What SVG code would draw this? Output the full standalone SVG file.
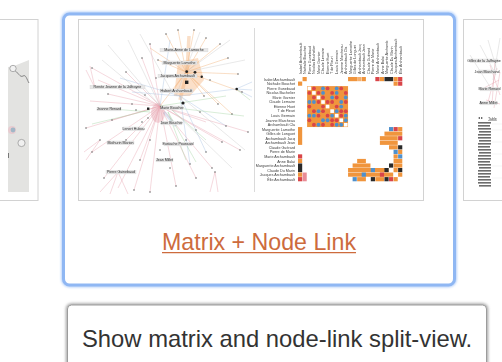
<svg xmlns="http://www.w3.org/2000/svg" width="502" height="362" viewBox="0 0 502 362">
  <defs>
    <filter id="soft" x="-5%" y="-5%" width="110%" height="110%">
      <feGaussianBlur stdDeviation="0.4"/>
    </filter>
    <filter id="glow" x="-10%" y="-10%" width="120%" height="120%">
      <feGaussianBlur stdDeviation="1.2"/>
    </filter>
    <filter id="shadow" x="-10%" y="-20%" width="120%" height="140%">
      <feGaussianBlur stdDeviation="1.6"/>
    </filter>
  </defs>
  <style>
    .frame { fill: #ffffff; stroke: #d2d2d2; stroke-width: 1; }
    .lbl { font-family: "Liberation Sans", Arial, sans-serif; font-size: 3.7px; fill: #3c3c3c; }
    .nlbl { font-family: "Liberation Sans", Arial, sans-serif; font-size: 3.6px; fill: #2a2a2a; text-anchor: middle; }
    .nbg { fill: #e8e8e8; stroke: #cfcfcf; stroke-width: 0.3; }
    .pink { stroke: #e49aa7; }
    .orng { stroke: #f0a868; }
    .blue { stroke: #9dbbe0; }
    .grn { stroke: #9ccf98; }
    .gray { stroke: #c4c4c4; }
    .edges path { fill: none; stroke-width: 0.55; opacity: 0.7; }
    .dot { fill: #6a6a6a; }
    .o { fill: #f0953e; }
    .y { fill: #f5b06e; }
    .r { fill: #d94448; }
    .b { fill: #4f90cc; }
    .k { fill: #2b2b2b; }
    .p { fill: #e98c96; }
    .w { fill: #ffffff; }
  </style>

  <rect width="502" height="362" fill="#ffffff"/>

  <!-- card on the left, cut by the window edge -->
  <g id="card-left">
    <rect class="frame" x="-6" y="19.5" width="44" height="181"/>
    <g filter="url(#soft)">
      <polygon points="8,67 14,66 29,60 29,192 8,192" fill="#e3e3e1"/>
      <path d="M13 69 C18 72 20 78 23 76 C26 74 27 80 29 83" fill="none" stroke="#7a7a7a" stroke-width="0.9"/>
      <circle cx="13" cy="68.5" r="3.2" fill="#f2f2f2" stroke="#9a9a9a" stroke-width="0.8"/>
      <circle cx="21.5" cy="143" r="3.6" fill="#f0f0f0" stroke="#9a9a9a" stroke-width="0.8"/>
      <circle cx="12" cy="130" r="4" fill="#e8c6cc" opacity="0.8"/>
      <circle cx="13" cy="130" r="2.4" fill="#8fb2c4" opacity="0.8"/>
      <rect x="8" y="153" width="1" height="5" fill="#777"/>
    </g>
  </g>

  <!-- card on the right, cut by the window edge -->
  <g id="card-right">
    <rect class="frame" x="463.5" y="19.5" width="60" height="181"/>
    <g filter="url(#soft)">
      <g class="edges">
        <path class="pink" d="M495 60 L492 105 M497 68 L488 102 M500 72 L494 108 M490 65 L500 95 M484 88 L499 80 M486 100 L500 104"/>
        <path class="gray" d="M480 45 L496 75 M488 40 L497 70 M470 55 L492 90 M500 38 L493 80"/>
      </g>
      <rect x="470" y="59" width="28" height="3.4" class="nbg"/>
      <text class="nlbl" x="484" y="61.8">Gilles de la Jalfrayne</text>
      <rect x="478" y="70" width="18" height="3.4" class="nbg"/>
      <text class="nlbl" x="487" y="72.8">Jean Marchand</text>
      <rect x="480" y="87.5" width="19" height="3.4" class="nbg"/>
      <text class="nlbl" x="489.5" y="90.3">Marie Renard</text>
      <rect x="480" y="101.5" width="17" height="3.4" class="nbg"/>
      <text class="nlbl" x="488.5" y="104.3">Anne Millet</text>
      <text class="lbl" x="478" y="119" font-size="4">◂ ▸</text>
      <text class="lbl" x="488" y="119.5" font-size="4" text-decoration="underline">Table</text>
      <g fill="#6c6c6c">
        <rect x="478" y="122" width="13" height="1.6"/>
        <rect x="478" y="125" width="12" height="1.6"/>
        <rect x="478" y="128" width="13" height="1.6"/>
        <rect x="479" y="131" width="12" height="1.6"/>
        <rect x="478" y="134" width="13" height="1.6"/>
        <rect x="478" y="137" width="13" height="1.6"/>
        <rect x="479" y="140" width="12" height="1.6"/>
        <rect x="478" y="143" width="13" height="1.6"/>
        <rect x="478" y="146" width="12" height="1.6"/>
        <rect x="478" y="149" width="13" height="1.6"/>
        <rect x="479" y="152" width="12" height="1.6"/>
        <rect x="478" y="155" width="13" height="1.6"/>
        <rect x="478" y="158" width="13" height="1.6"/>
        <rect x="478" y="161" width="12" height="1.6"/>
        <rect x="478" y="164" width="13" height="1.6"/>
        <rect x="479" y="167" width="12" height="1.6"/>
        <rect x="478" y="170" width="13" height="1.6"/>
        <rect x="478" y="173" width="13" height="1.6"/>
        <rect x="478" y="176" width="12" height="1.6"/>
        <rect x="478" y="179" width="13" height="1.6"/>
        <rect x="478" y="182" width="13" height="1.6"/>
        <rect x="479" y="185" width="12" height="1.6"/>
      </g>
      <g stroke="#e6e6e6" stroke-width="0.4">
        <line x1="492" y1="124" x2="502" y2="124"/>
        <line x1="492" y1="130" x2="502" y2="130"/>
        <line x1="492" y1="142" x2="502" y2="142"/>
        <line x1="492" y1="154" x2="502" y2="154"/>
        <line x1="492" y1="166" x2="502" y2="166"/>
        <line x1="492" y1="178" x2="502" y2="178"/>
      </g>
    </g>
  </g>

  <!-- selected card -->
  <g id="card-main">
    <rect x="63.5" y="14" width="391" height="271" rx="6" fill="none" stroke="#b9d3fa" stroke-width="5" filter="url(#glow)"/>
    <rect x="63.5" y="14" width="391" height="271" rx="6" fill="#ffffff" stroke="#8fb7f3" stroke-width="3"/>
    <rect class="frame" x="78.5" y="19.5" width="345" height="181"/>
    <line x1="254.5" y1="28" x2="254.5" y2="192" stroke="#d0d0d0" stroke-width="0.8"/>

    <!-- node-link view -->
    <g id="node-link" filter="url(#soft)">
      <polygon points="178,62 198,58 204,80 190,96 174,96" fill="#f4a462" opacity="0.35"/>
      <path d="M189 36 L187 72 L180 100" fill="none" stroke="#f2a262" stroke-width="3.5" opacity="0.35"/>
      <ellipse cx="158" cy="113" rx="7" ry="10" fill="#e49aa7" opacity="0.4"/>
      <path d="M164 112 L176 126" stroke="#9bb3d8" stroke-width="3" opacity="0.35"/>
      <g class="edges">
        <path class="pink" d="M160 106 L92 68 M160 106 L98 80 M160 106 L90 101 M160 106 L86 128 M160 106 L92 152 M160 106 L104 178 M160 106 L118 188 M160 106 L134 190 M160 106 L150 192 M160 106 L140 160 M160 106 L126 140 M160 106 L112 120 M160 106 L108 94 M160 106 L126 72 M160 106 L142 58 M160 106 L150 44 M160 106 L206 122 M160 106 L222 142 M160 106 L240 150 M160 106 L248 132 M160 106 L212 168 M160 106 L196 178 M160 106 L176 186 M118 172 L100 192 M118 172 L110 194 M118 172 L128 194 M100 140 L84 152 M100 140 L86 160 M95 88 L86 70 M95 88 L90 66 M215 172 L218 192 M215 172 L210 192"/>
        <path class="orng" d="M186 72 L166 34 M186 72 L178 30 M186 72 L194 30 M186 72 L206 38 M186 72 L220 44 M186 72 L228 58 M186 72 L238 74 M186 72 L242 92 M186 72 L150 48 M186 72 L158 60 M186 72 L172 92 M186 72 L160 106 M186 72 L204 96 M186 72 L218 104 M186 72 L232 114"/>
        <path class="blue" d="M180 96 L236 89 M236 89 L252 82 M236 89 L252 90 M236 89 L252 97 M180 96 L226 126 M180 96 L206 152 M180 96 L190 164 M180 96 L132 92 M180 96 L120 78 M160 106 L170 40"/>
        <path class="grn" d="M168 112 L196 162 M168 112 L186 160 M172 110 L206 140 M150 112 L100 108 M150 110 L92 124 M160 106 L226 96 M236 89 L250 100 M160 106 L244 116"/>
        <path class="gray" d="M128 40 L160 106 M108 45 L160 106 M200 32 L176 96 M140 34 L172 92 M230 40 L186 72 M245 60 L186 72 M245 150 L180 96 M232 168 L172 110 M102 60 L150 100"/>
      </g>
      <g class="dot">
        <circle cx="150" cy="44" r="0.8"/><circle cx="166" cy="34" r="0.8"/><circle cx="206" cy="38" r="0.8"/>
        <circle cx="220" cy="44" r="0.8"/><circle cx="228" cy="58" r="0.8"/><circle cx="238" cy="74" r="0.8"/>
        <circle cx="242" cy="92" r="0.8"/><circle cx="232" cy="114" r="0.8"/><circle cx="248" cy="132" r="0.8"/>
        <circle cx="240" cy="150" r="0.8"/><circle cx="222" cy="142" r="0.8"/><circle cx="212" cy="168" r="0.8"/>
        <circle cx="196" cy="178" r="0.8"/><circle cx="176" cy="186" r="0.8"/><circle cx="150" cy="192" r="0.8"/>
        <circle cx="134" cy="190" r="0.8"/><circle cx="140" cy="160" r="0.8"/><circle cx="126" cy="140" r="0.8"/>
        <circle cx="112" cy="120" r="0.8"/><circle cx="108" cy="94" r="0.8"/><circle cx="126" cy="72" r="0.8"/>
        <circle cx="142" cy="58" r="0.8"/><circle cx="204" cy="96" r="0.8"/><circle cx="218" cy="104" r="0.8"/>
        <circle cx="226" cy="126" r="0.8"/><circle cx="206" cy="152" r="0.8"/><circle cx="190" cy="164" r="0.8"/>
        <circle cx="158" cy="60" r="0.8"/><circle cx="104" cy="178" r="0.8"/><circle cx="92" cy="152" r="0.8"/>
        <circle cx="86" cy="128" r="0.8"/><circle cx="92" cy="68" r="0.8"/><circle cx="178" cy="30" r="0.8"/>
        <circle cx="194" cy="30" r="0.8"/><circle cx="136" cy="110" r="0.8"/><circle cx="142" cy="122" r="0.8"/>
        <circle cx="148" cy="118" r="0.8"/><circle cx="132" cy="104" r="0.8"/><circle cx="166" cy="90" r="0.8"/>
        <circle cx="196" cy="130" r="0.8"/><circle cx="186" cy="140" r="0.8"/><circle cx="160" cy="150" r="0.8"/>
        <circle cx="150" cy="140" r="0.8"/><circle cx="170" cy="168" r="0.8"/><circle cx="200" cy="112" r="0.8"/>
        <circle cx="210" cy="80" r="0.8"/><circle cx="156" cy="78" r="0.8"/><circle cx="145" cy="95" r="0.8"/>
        <circle cx="118" cy="172" r="0.8"/><circle cx="215" cy="172" r="0.8"/><circle cx="100" cy="140" r="0.8"/>
      </g>
      <g fill="#222222">
        <circle cx="186.7" cy="71.7" r="1.4"/>
        <circle cx="195" cy="72.3" r="1.4"/>
        <rect x="185" y="80.6" width="3.4" height="3.4"/>
        <circle cx="201.7" cy="76.7" r="1.2"/>
        <circle cx="183" cy="103" r="1.6"/>
        <circle cx="236.7" cy="89" r="1.3"/>
        <rect x="147" y="107.5" width="2.4" height="2.4"/>
      </g>

      <g id="node-labels">
        <rect class="nbg" x="160" y="48.3" width="48" height="3.6"/>
        <text class="nlbl" x="184" y="51.2">Marie-Anne de Lamoche</text>
        <rect class="nbg" x="162" y="61" width="35" height="3.6"/>
        <text class="nlbl" x="179.5" y="63.9">Marguerite Lamothe</text>
        <rect class="nbg" x="158" y="74.3" width="39" height="3.6"/>
        <text class="nlbl" x="177.5" y="77.2">Jacques Archambault</text>
        <rect class="nbg" x="90" y="85.3" width="55" height="3.6"/>
        <text class="nlbl" x="117.5" y="88.2">Renée Jeanne de la Jalfrayne</text>
        <rect class="nbg" x="160" y="89" width="33" height="3.6"/>
        <text class="nlbl" x="176.5" y="91.9">Hubert Archambault</text>
        <rect class="nbg" x="97" y="107.3" width="24" height="3.6"/>
        <text class="nlbl" x="109" y="110.2">Jeanne Renard</text>
        <rect class="nbg" x="161" y="106" width="22" height="3.6"/>
        <text class="nlbl" x="172" y="108.9">Marie Boucher</text>
        <rect class="nbg" x="161" y="121.3" width="21" height="3.6"/>
        <text class="nlbl" x="171.5" y="124.2">Jean Boucher</text>
        <rect class="nbg" x="123" y="127" width="21" height="3.6"/>
        <text class="nlbl" x="133.5" y="129.9">Lenert Hubou</text>
        <rect class="nbg" x="107" y="141" width="27" height="3.6"/>
        <text class="nlbl" x="120.5" y="143.9">Mathurin Marion</text>
        <rect class="nbg" x="164" y="142.3" width="28" height="3.6"/>
        <text class="nlbl" x="178" y="145.2">Eustache Poussard</text>
        <rect class="nbg" x="156" y="158.3" width="17" height="3.6"/>
        <text class="nlbl" x="164.5" y="161.2">Jean Millet</text>
        <rect class="nbg" x="106" y="170.3" width="30" height="3.6"/>
        <text class="nlbl" x="121" y="173.2">Pierre Guinebaud</text>
      </g>
    </g>

    <!-- adjacency matrix view -->
    <g id="matrix" filter="url(#soft)">
      <g id="row-labels" class="lbl" text-anchor="end">
        <text x="295" y="80.6">Isabel Archambault</text>
        <text x="295" y="85.1">Nathalie Bouchet</text>
        <text x="295" y="89.7">Pierre Gunebaud</text>
        <text x="295" y="94.2">Nicolas Bachelier</text>
        <text x="295" y="98.8">Marie Garnier</text>
        <text x="295" y="103.3">Claude Lemaire</text>
        <text x="295" y="107.9">Etienne Huet</text>
        <text x="295" y="112.4">T de Fleuri</text>
        <text x="295" y="117">Louis Germain</text>
        <text x="295" y="121.5">Jeanne Marcheau</text>
        <text x="295" y="126.1">Archambault Cla</text>
        <text x="295" y="130.6">Marguerite Lamothe</text>
        <text x="295" y="135.2">Gilles de Longuet</text>
        <text x="295" y="139.7">Archambault Jacq</text>
        <text x="295" y="144.3">Archambault Jean</text>
        <text x="295" y="148.8">Claude Guérard</text>
        <text x="295" y="153.4">Pierre de Marie</text>
        <text x="295" y="157.9">Marie Archambault</text>
        <text x="295" y="162.5">Anne Balai</text>
        <text x="295" y="167">Marguerite Archambault</text>
        <text x="295" y="171.6">Claude Du Marin</text>
        <text x="295" y="176.1">Jacques Archambault</text>
        <text x="295" y="180.7">Élie Archambault</text>
      </g>
      <g id="col-labels" class="lbl">
        <text transform="translate(301.6 74) rotate(-90)">Isabel Archambault</text>
        <text transform="translate(306.1 74) rotate(-90)">Nathalie Bouchet</text>
        <text transform="translate(310.7 74) rotate(-90)">Pierre Gunebaud</text>
        <text transform="translate(315.2 74) rotate(-90)">Nicolas Bachelier</text>
        <text transform="translate(319.8 74) rotate(-90)">Marie Garnier</text>
        <text transform="translate(324.3 74) rotate(-90)">Claude Lemaire</text>
        <text transform="translate(328.9 74) rotate(-90)">Etienne Huet</text>
        <text transform="translate(333.4 74) rotate(-90)">T de Fleuri</text>
        <text transform="translate(338 74) rotate(-90)">Louis Germain</text>
        <text transform="translate(342.5 74) rotate(-90)">Jeanne Marcheau</text>
        <text transform="translate(347.1 74) rotate(-90)">Archambault Cla</text>
        <text transform="translate(351.6 74) rotate(-90)">Marguerite Lamothe</text>
        <text transform="translate(356.2 74) rotate(-90)">Gilles de Longuet</text>
        <text transform="translate(360.7 74) rotate(-90)">Archambault Jacq</text>
        <text transform="translate(365.3 74) rotate(-90)">Archambault Jean</text>
        <text transform="translate(369.8 74) rotate(-90)">Claude Guérard</text>
        <text transform="translate(374.4 74) rotate(-90)">Pierre de Marie</text>
        <text transform="translate(378.9 74) rotate(-90)">Marie Archambault</text>
        <text transform="translate(383.5 74) rotate(-90)">Anne Balai</text>
        <text transform="translate(388 74) rotate(-90)">Marguerite Archamb</text>
        <text transform="translate(392.6 74) rotate(-90)">Claude Du Marin</text>
        <text transform="translate(397.1 74) rotate(-90)">Jacques Archambault</text>
        <text transform="translate(401.7 74) rotate(-90)">Élie Archambault</text>
      </g>

      <!-- cells: one unit per row/column -->
      <g transform="translate(298 77) scale(4.55)">
        <!-- dense block -->
        <rect class="o" x="2" y="2" width="9" height="9"/>
        <g class="w">
          <rect x="2.1" y="2.1" width=".8" height=".8"/><rect x="3.1" y="3.1" width=".8" height=".8"/>
          <rect x="4.1" y="4.1" width=".8" height=".8"/><rect x="5.1" y="5.1" width=".8" height=".8"/>
          <rect x="6.1" y="6.1" width=".8" height=".8"/><rect x="7.1" y="7.1" width=".8" height=".8"/>
          <rect x="8.1" y="8.1" width=".8" height=".8"/><rect x="9.1" y="9.1" width=".8" height=".8"/>
          <rect x="10.1" y="10.1" width=".8" height=".8"/>
        </g>
        <g class="r">
          <circle cx="3.5" cy="2.5" r=".42"/><circle cx="2.5" cy="3.5" r=".42"/>
          <circle cx="6.5" cy="2.5" r=".42"/><circle cx="2.5" cy="6.5" r=".42"/>
          <circle cx="9.5" cy="2.5" r=".42"/><circle cx="2.5" cy="9.5" r=".42"/>
          <circle cx="4.5" cy="3.5" r=".42"/><circle cx="3.5" cy="4.5" r=".42"/>
          <circle cx="7.5" cy="3.5" r=".42"/><circle cx="3.5" cy="7.5" r=".42"/>
          <circle cx="10.5" cy="3.5" r=".42"/><circle cx="3.5" cy="10.5" r=".42"/>
          <circle cx="5.5" cy="4.5" r=".42"/><circle cx="4.5" cy="5.5" r=".42"/>
          <circle cx="8.5" cy="4.5" r=".42"/><circle cx="4.5" cy="8.5" r=".42"/>
          <circle cx="6.5" cy="5.5" r=".42"/><circle cx="5.5" cy="6.5" r=".42"/>
          <circle cx="7.5" cy="5.5" r=".42"/><circle cx="5.5" cy="7.5" r=".42"/>
          <circle cx="10.5" cy="5.5" r=".42"/><circle cx="5.5" cy="10.5" r=".42"/>
          <circle cx="8.5" cy="6.5" r=".42"/><circle cx="6.5" cy="8.5" r=".42"/>
          <circle cx="9.5" cy="7.5" r=".42"/><circle cx="7.5" cy="9.5" r=".42"/>
          <circle cx="10.5" cy="7.5" r=".42"/><circle cx="7.5" cy="10.5" r=".42"/>
          <circle cx="9.5" cy="8.5" r=".42"/><circle cx="8.5" cy="9.5" r=".42"/>
        </g>
        <g class="b">
          <circle cx="5.5" cy="2.5" r=".42"/><circle cx="2.5" cy="5.5" r=".42"/>
          <circle cx="8.5" cy="2.5" r=".42"/><circle cx="2.5" cy="8.5" r=".42"/>
          <circle cx="5.5" cy="3.5" r=".42"/><circle cx="3.5" cy="5.5" r=".42"/>
          <circle cx="8.5" cy="3.5" r=".42"/><circle cx="3.5" cy="8.5" r=".42"/>
          <circle cx="7.5" cy="4.5" r=".42"/><circle cx="4.5" cy="7.5" r=".42"/>
          <circle cx="10.5" cy="4.5" r=".42"/><circle cx="4.5" cy="10.5" r=".42"/>
          <circle cx="9.5" cy="5.5" r=".42"/><circle cx="5.5" cy="9.5" r=".42"/>
          <circle cx="9.5" cy="6.5" r=".42"/><circle cx="6.5" cy="9.5" r=".42"/>
          <circle cx="8.5" cy="7.5" r=".42"/><circle cx="7.5" cy="8.5" r=".42"/>
          <circle cx="10.5" cy="8.5" r=".42"/><circle cx="8.5" cy="10.5" r=".42"/>
          <circle cx="10.5" cy="9.5" r=".42"/><circle cx="9.5" cy="10.5" r=".42"/>
        </g>

        <!-- scattered cells -->
        <rect class="o" x="1" y="0" width=".92" height=".92"/>
        <rect class="o" x="0" y="1" width=".92" height=".92"/>
        <rect class="o" x="11" y="0" width="2" height=".92"/>
        <rect class="y" x="13" y="0" width=".92" height=".92"/>
        <rect class="o" x="14" y="0" width=".92" height=".92"/>
        <rect class="r" x="17" y="0" width=".92" height=".92"/>
        <rect class="o" x="18" y="0" width=".92" height=".92"/>
        <rect class="k" x="19" y="0" width="1.92" height=".92"/>
        <rect class="o" x="21" y="0" width=".92" height=".92"/>
        <rect class="r" x="22" y="0" width=".92" height=".92"/>
        <rect class="o" x="21" y="1" width=".92" height=".92"/>
        <rect class="r" x="22" y="1" width=".92" height=".92"/>

        <rect class="o" x="0" y="11" width=".92" height="3.92"/>
        <rect class="r" x="0" y="17" width=".92" height=".92"/>
        <rect class="o" x="0" y="18" width=".92" height=".92"/>
        <rect class="k" x="0" y="19" width=".92" height="1.92"/>
        <rect class="o" x="0" y="21" width=".92" height=".92"/>
        <rect class="r" x="0" y="22" width=".92" height=".92"/>
        <rect class="p" x="1" y="21" width=".92" height="1.92"/>

        <!-- lower-right cluster -->
        <rect class="b" x="20" y="11" width=".92" height=".92"/>
        <rect class="r" x="21" y="11" width=".92" height=".92"/>
        <rect class="o" x="22" y="11" width=".92" height=".92"/>
        <rect class="o" x="19" y="12" width="3.92" height=".92"/>
        <rect class="o" x="18" y="13" width="3.92" height=".92"/>
        <rect class="r" x="22" y="13" width=".92" height=".92"/>
        <rect class="o" x="18" y="14" width="3.92" height=".92"/>
        <rect class="o" x="20" y="15" width="1.92" height=".92"/>
        <rect class="k" x="22" y="15" width=".92" height=".92"/>
        <rect class="b" x="21" y="16" width=".92" height=".92"/>
        <rect class="o" x="22" y="16" width=".92" height=".92"/>
        <rect class="o" x="21" y="17" width=".92" height=".92"/>
        <rect class="b" x="22" y="17" width=".92" height=".92"/>
        <rect class="o" x="13" y="18" width="1.92" height=".92"/>
        <rect class="o" x="21" y="18" width="1.92" height=".92"/>
        <rect class="o" x="12" y="19" width="3.92" height=".92"/>
        <rect class="k" x="20" y="19" width=".92" height=".92"/>
        <rect class="o" x="21" y="19" width="1.92" height=".92"/>
        <rect class="o" x="11" y="20" width="8.92" height=".92"/>
        <rect class="b" x="16" y="20" width=".92" height=".92"/>
        <rect class="k" x="19" y="20" width=".92" height=".92"/>
        <rect class="o" x="21" y="20" width=".92" height=".92"/>
        <rect class="k" x="22" y="20" width=".92" height=".92"/>
        <rect class="o" x="11" y="21" width="9.92" height=".92"/>
        <rect class="b" x="14" y="21" width=".92" height=".92"/>
        <rect class="r" x="18" y="21" width=".92" height=".92"/>
        <rect class="o" x="22" y="21" width=".92" height=".92"/>
        <rect class="b" x="12" y="22" width=".92" height=".92"/>
        <rect class="o" x="13" y="22" width="1.92" height=".92"/>
        <rect class="k" x="16" y="22" width=".92" height=".92"/>
        <rect class="o" x="17" y="22" width="1.92" height=".92"/>
        <rect class="k" x="19" y="22" width=".92" height=".92"/>
        <rect class="r" x="20" y="22" width=".92" height=".92"/>
        <rect class="o" x="21" y="22" width=".92" height=".92"/>
      </g>
    </g>

    <text x="259" y="250" text-anchor="middle" font-family="'Liberation Sans', Arial, sans-serif" font-size="23.2" fill="#cd6b3d">Matrix + Node Link</text>
    <line x1="162" y1="252.6" x2="356" y2="252.6" stroke="#cd6b3d" stroke-width="1.1"/>
  </g>

  <!-- tooltip -->
  <g id="tooltip">
    <rect x="67.5" y="305" width="419" height="70" rx="4" fill="none" stroke="#9a9a9a" stroke-width="3" filter="url(#shadow)"/>
    <rect x="67.5" y="305" width="419" height="70" rx="4" fill="#ffffff" stroke="#9c9c9c" stroke-width="1"/>
    <text x="82" y="347" font-family="'Liberation Sans', Arial, sans-serif" font-size="23.8" fill="#333333">Show matrix and node-link split-view.</text>
  </g>
</svg>
